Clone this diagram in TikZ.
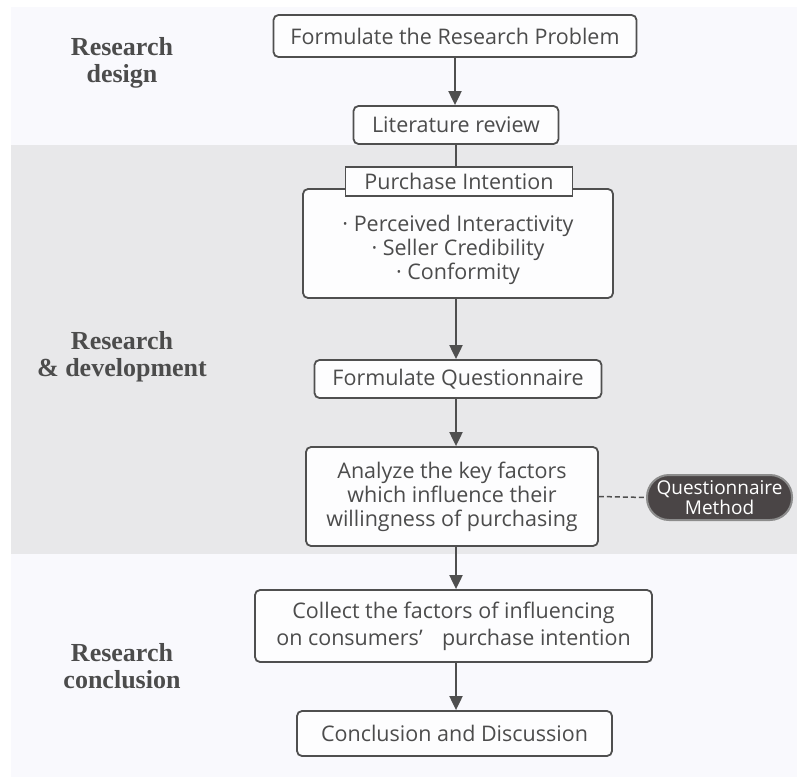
\documentclass[tikz,border=0pt]{standalone}
\usepackage{fontspec}
\setmainfont{Open Sans}
\newfontfamily\labelfont{Liberation Serif}
\usetikzlibrary{arrows.meta}
\definecolor{ink}{HTML}{4C4C4C}
\definecolor{edge}{HTML}{4F4F4F}
\definecolor{bandlight}{HTML}{F9F9FD}
\definecolor{banddark}{HTML}{E8E8EA}
\definecolor{pill}{HTML}{4A4546}
\definecolor{pillrim}{HTML}{8C8C8C}
\definecolor{boxfill}{HTML}{FDFDFE}

\begin{document}
\begin{tikzpicture}[x=1pt,y=-1pt,
  stepbox/.style={draw=edge, line width=1.8pt, rounded corners=5pt, fill=boxfill,
    text=ink, font=\fontsize{21.5}{24}\selectfont, align=center, inner sep=0pt},
  headbox/.style={stepbox, rounded corners=0pt},
  plaintext/.style={text=ink, font=\fontsize{21.5}{24}\selectfont, align=center, inner sep=0pt},
  flow/.style={draw=edge, line width=2pt},
  flowarrow/.style={flow, -{Triangle[length=14pt,width=13pt]}},
  phase/.style={text=ink, font=\labelfont\bfseries\fontsize{26}{27}\selectfont, align=center},
  methodpill/.style={draw=pillrim, line width=2pt, fill=pill, rounded corners=22pt,
    text=white, font=\fontsize{19}{20}\selectfont, align=center, inner sep=0pt,
    minimum width=145pt, minimum height=45pt}
]
\useasboundingbox (0,0) rectangle (797,778);
% background bands for the three phases
\fill[white] (0,0) rectangle (797,778);
\fill[bandlight] (11,7) rectangle (797,145);
\fill[banddark] (11,145) rectangle (797,554);
\fill[bandlight] (11,554) rectangle (797,777);

% phase labels
\node[phase] (pdesign) at (122,63) {Research\\design};
\node[phase] (pdev) at (122,357) {Research\\\& development};
\node[phase] (pconc) at (122,666) {Research\\conclusion};

% flow steps
\node[stepbox, minimum width=363pt, minimum height=42pt] (prob) at (455,36) {Formulate the Research Problem};
\node[stepbox, minimum width=205pt, minimum height=38pt] (lit) at (456,125) {Literature review};
\node[stepbox, minimum width=310pt, minimum height=109pt] (vars) at (458,243.5) {};
\node[plaintext] (varlist) at (458,249.5) {· Perceived Interactivity\\ · Seller Credibility\\ · Conformity};
\node[headbox, minimum width=227pt, minimum height=29pt] (pi) at (459,181.5) {Purchase Intention};
\node[stepbox, minimum width=287pt, minimum height=38pt] (quest) at (458,379) {Formulate Questionnaire};
\node[stepbox, minimum width=292pt, minimum height=99pt] (anal) at (452,496.5)
  {Analyze the key factors\\which influence their\\willingness of purchasing};
\node[methodpill] (qm) at (719.5,497.5) {Questionnaire\\Method};
\node[stepbox, minimum width=397pt, minimum height=72pt, font=\fontsize{21.5}{27}\selectfont] (coll) at (453.5,626)
  {Collect the factors of influencing\\on consumers’\hspace{0.9em}purchase intention};
\node[stepbox, minimum width=315pt, minimum height=45pt] (concl) at (454.5,733.5) {Conclusion and Discussion};

% connectors
\draw[flowarrow] (prob.south) -- (prob.south |- lit.north);
\draw[flow] (lit.south) -- (lit.south |- pi.north);
\draw[flowarrow] (vars.south -| lit.south) -- (lit.south |- quest.north);
\draw[flowarrow] (quest.south -| lit.south) -- (lit.south |- anal.north);
\draw[flowarrow] (anal.south -| lit.south) -- (lit.south |- coll.north);
\draw[flowarrow] (coll.south -| lit.south) -- (lit.south |- concl.north);
\draw[edge, line width=1.5pt, dash pattern=on 5pt off 3pt] (anal.east) -- (qm.west);
\end{tikzpicture}
\end{document}
